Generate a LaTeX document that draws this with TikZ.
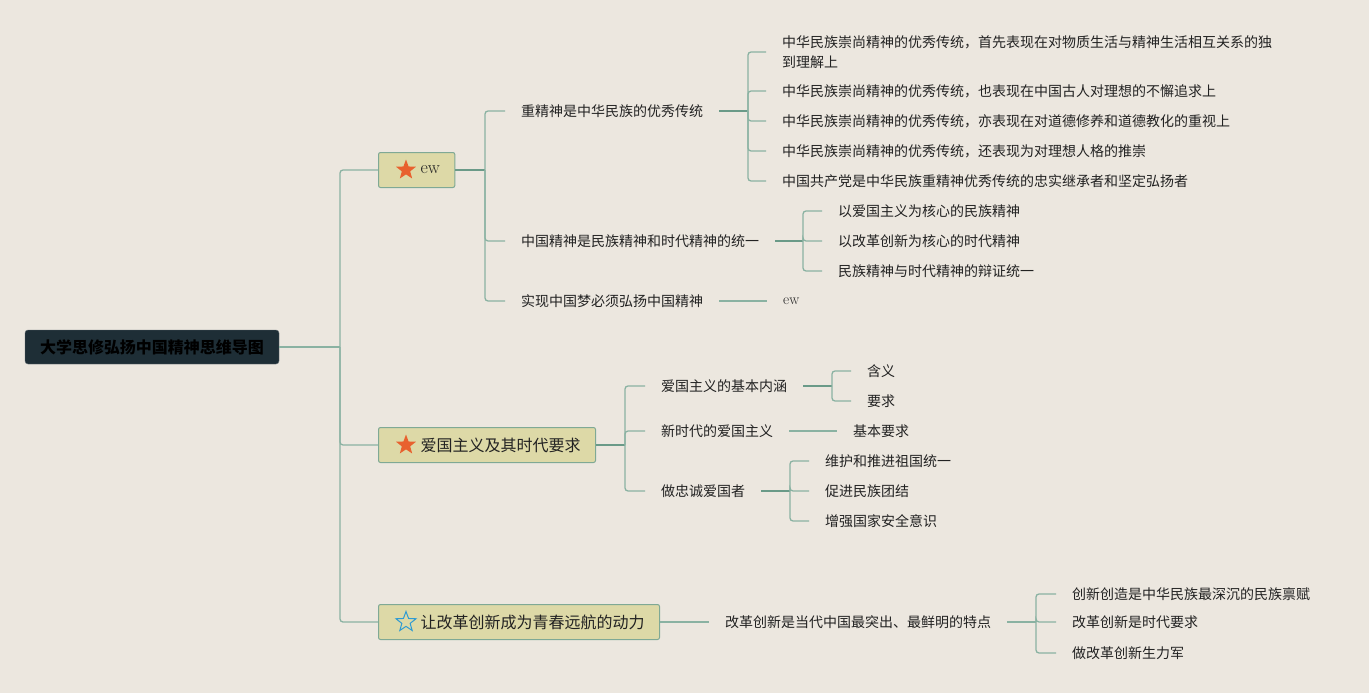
\documentclass[tikz,border=0pt]{standalone}
\usepackage{fontspec}
\newfontfamily\cjk{Noto Sans CJK SC}
\usetikzlibrary{shapes.geometric}
\definecolor{bg}{HTML}{ECE7DF}
\definecolor{branch}{HTML}{8AB2A2}
\definecolor{stub}{HTML}{6A9A88}
\definecolor{topicfill}{HTML}{DDD9A7}
\definecolor{topicline}{HTML}{7FA995}
\definecolor{rootfill}{HTML}{1E2E36}
\definecolor{ink}{HTML}{222222}
\definecolor{starorange}{HTML}{E8612E}
\definecolor{starblue}{HTML}{2E9BD3}

\begin{document}
\begin{tikzpicture}[x=1pt,y=-1pt,
	root/.style={
		draw=rootfill!70!white, % dark title box
		fill=rootfill,
		rounded corners=3pt,
		minimum width=254pt,
		minimum height=34pt,
		text=black,
		font=\cjk\bfseries\fontsize{16}{18}\selectfont,
	},
	topic/.style={
		draw=topicline,
		fill=topicfill,
		line width=1pt,
		rounded corners=2pt,
		anchor=west,
		inner xsep=15pt,
		minimum height=35pt,
		text=ink,
		font=\cjk\fontsize{16}{18}\selectfont,
	},
	leaf/.style={anchor=west,inner xsep=16pt,inner ysep=2pt,text=ink,
		font=\cjk\fontsize{14}{20}\selectfont},
	starfull/.style={star,star points=5,star point ratio=2.4,minimum size=21pt,
		inner sep=0pt,fill=starorange},
	starempty/.style={star,star points=5,star point ratio=2.4,minimum size=21pt,
		inner sep=0pt,draw=starblue,line width=1pt},
	link/.style={draw=branch,line width=1.3pt,rounded corners=3pt},
	stem/.style={draw=stub,line width=2pt},
]
	\fill[bg] (0,0) rectangle (1369,693);
	\useasboundingbox (0,0) rectangle (1369,693);

	% central topic and main topics
	\node[root] (root) at (152,347) {大学思修弘扬中国精神思维导图};
	\node[topic] (ew) at (378,170) {\hspace{27pt}\rmfamily\fontsize{18}{18}\selectfont ew};
	\node[topic] (love) at (378,445) {\hspace{27pt}爱国主义及其时代要求};
	\node[topic] (reform) at (378,622) {\hspace{27pt}让改革创新成为青春远航的动力};
	\node[starfull] (star1) at (406,170) {};
	\node[starfull] (star2) at (406,445) {};
	\node[starempty] (star3) at (406,622) {};

	% first branch
	\node[leaf] (spirit) at (505,111) {重精神是中华民族的优秀传统};
	\node[leaf] (unity) at (505,241) {中国精神是民族精神和时代精神的统一};
	\node[leaf] (dream) at (505,301) {实现中国梦必须弘扬中国精神};
	\node[leaf,align=left] (sp1) at (766,52) {中华民族崇尚精神的优秀传统，首先表现在对物质生活与精神生活相互关系的独\\到理解上};
	\node[leaf] (sp2) at (766,91) {中华民族崇尚精神的优秀传统，也表现在中国古人对理想的不懈追求上};
	\node[leaf] (sp3) at (766,121) {中华民族崇尚精神的优秀传统，亦表现在对道德修养和道德教化的重视上};
	\node[leaf] (sp4) at (766,151) {中华民族崇尚精神的优秀传统，还表现为对理想人格的推崇};
	\node[leaf] (sp5) at (766,181) {中国共产党是中华民族重精神优秀传统的忠实继承者和坚定弘扬者};
	\node[leaf] (un1) at (822,211) {以爱国主义为核心的民族精神};
	\node[leaf] (un2) at (822,241) {以改革创新为核心的时代精神};
	\node[leaf] (un3) at (822,271) {民族精神与时代精神的辩证统一};
	\node[leaf,font=\rmfamily\fontsize{15}{16}\selectfont] (dr1) at (767,301) {ew};

	% second branch
	\node[leaf] (core) at (645,386) {爱国主义的基本内涵};
	\node[leaf] (newera) at (645,431) {新时代的爱国主义};
	\node[leaf] (loyal) at (645,491) {做忠诚爱国者};
	\node[leaf] (co1) at (851,371) {含义};
	\node[leaf] (co2) at (851,401) {要求};
	\node[leaf] (ne1) at (837,431) {基本要求};
	\node[leaf] (lo1) at (809,461) {维护和推进祖国统一};
	\node[leaf] (lo2) at (809,491) {促进民族团结};
	\node[leaf] (lo3) at (809,521) {增强国家安全意识};

	% third branch
	\node[leaf] (trait) at (709,622) {改革创新是当代中国最突出、最鲜明的特点};
	\node[leaf] (tr1) at (1056,594) {创新创造是中华民族最深沉的民族禀赋};
	\node[leaf] (tr2) at (1056,622) {改革创新是时代要求};
	\node[leaf] (tr3) at (1056,653) {做改革创新生力军};

	% connectors
	\coordinate (t0) at (340,347);
	\draw[link] (root.east) -- (t0);
	\foreach \c in {ew,love,reform}
		\draw[link] (t0) |- (\c.west);

	\coordinate (t1) at (485,170);
	\draw[stem] (ew.east) -- (t1);
	\foreach \c in {spirit,unity,dream}
		\draw[link] (t1) |- (\c.west);

	\coordinate (t11) at (748,111);
	\draw[stem] (spirit.east) -- (t11);
	\foreach \c in {sp1,sp2,sp3,sp4,sp5}
		\draw[link] (t11) |- (\c.west);

	\coordinate (t12) at (803,241);
	\draw[stem] (unity.east) -- (t12);
	\foreach \c in {un1,un2,un3}
		\draw[link] (t12) |- (\c.west);

	\draw[link] (dream.east) -- (dr1.west);

	\coordinate (t2) at (625,445);
	\draw[stem] (love.east) -- (t2);
	\foreach \c in {core,newera,loyal}
		\draw[link] (t2) |- (\c.west);

	\coordinate (t21) at (832,386);
	\draw[stem] (core.east) -- (t21);
	\foreach \c in {co1,co2}
		\draw[link] (t21) |- (\c.west);

	\draw[link] (newera.east) -- (ne1.west);

	\coordinate (t23) at (790,491);
	\draw[stem] (loyal.east) -- (t23);
	\foreach \c in {lo1,lo2,lo3}
		\draw[link] (t23) |- (\c.west);

	\draw[link] (reform.east) -- (trait.west);

	\coordinate (t3) at (1036,622);
	\draw[link] (trait.east) -- (t3);
	\foreach \c in {tr1,tr2,tr3}
		\draw[link] (t3) |- (\c.west);

\end{tikzpicture}
\end{document}
